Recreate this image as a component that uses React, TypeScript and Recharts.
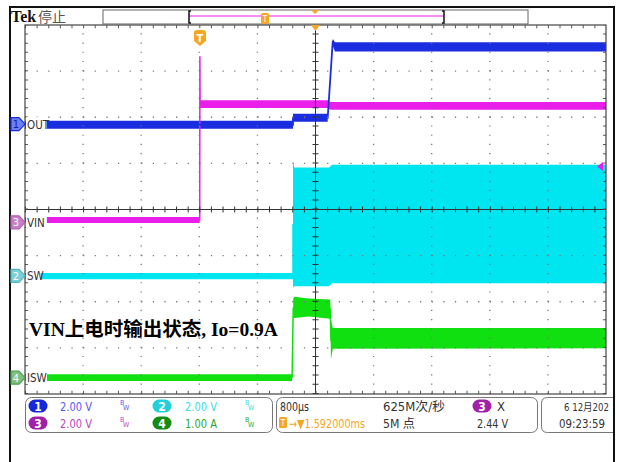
import React from "react";
import { ComposedChart, Line, Area, XAxis, YAxis, ReferenceLine } from "recharts";

// horizontal: 800 µs/div, trigger T at 0 ms, screen centre at 1.592 ms
const T_LEFT = -2.408;
const T_RIGHT = 5.592;
const T_DIV = 0.8;

// channel settings: V (or A) per division, ground marker position in divisions
const ch1Scale = 2, ch1Pos = 1.85;
const ch2Scale = 2, ch2Pos = -1.44;
const ch3Scale = 2, ch3Pos = -0.28;
const ch4Scale = 1, ch4Pos = -3.65;

// each trace: time (ms), lower and upper edge of the noisy trace
// CH1 OUT (V)
const outT = [-2.408, 1.282, 1.282, 1.76, 1.76, 1.83, 1.83, 1.86, 5.592];
const outLo = [-0.2, -0.2, 0.1, 0.1, 0.28, 3.62, 3.4, 3.15, 3.15];
const outHi = [0.15, 0.15, 0.45, 0.45, 0.28, 3.62, 3.7, 3.55, 3.55];

// CH3 VIN (V)
const vinT = [-2.408, -0.002, -0.002, 0.0, 0.003, 0.003, 1.76, 1.8, 5.592];
const vinLo = [-0.03, -0.03, 0.1, 7.2, 5.1, 4.96, 4.96, 4.88, 4.88];
const vinHi = [0.23, 0.23, 0.1, 7.2, 5.1, 5.3, 5.3, 5.22, 5.22];

// CH2 SW (V)
const swT = [-2.408, 1.282, 1.282, 1.3, 1.78, 1.82, 5.592];
const swLo = [-0.14, -0.14, -0.5, -0.45, -0.45, -0.32, -0.32];
const swHi = [0.13, 0.13, 5.0, 4.7, 4.7, 4.82, 4.82];

// CH4 ISW (A)
const iswT = [-2.408, 1.27, 1.27, 1.285, 1.285, 1.3, 1.5, 1.795, 1.805, 1.83, 5.592];
const iswLo = [-0.07, -0.07, 0.0, 1.5, 1.3, 1.3, 1.33, 1.28, 0.4, 0.63, 0.64];
const iswHi = [0.08, 0.08, 0.0, 1.5, 1.72, 1.76, 1.72, 1.7, 1.25, 1.08, 1.08];

// graticule
const gridT = [1, 2, 3, 4, 6, 7, 8, 9].map((k) => T_LEFT + k * T_DIV);
const gridY = [-3, -2, -1, 1, 2, 3];
const T_CENTER = T_LEFT + 5 * T_DIV;

const toRows = (ts: number[], lo: number[], hi: number[], pos: number, scale: number) =>
  ts.map((t, i) => ({
    t,
    y: pos + (lo[i] + hi[i]) / 2 / scale,
    band: [pos + lo[i] / scale, pos + hi[i] / scale],
  }));

const outRows = toRows(outT, outLo, outHi, ch1Pos, ch1Scale);
const vinRows = toRows(vinT, vinLo, vinHi, ch3Pos, ch3Scale);
const swRows = toRows(swT, swLo, swHi, ch2Pos, ch2Scale);
const iswRows = toRows(iswT, iswLo, iswHi, ch4Pos, ch4Scale);

const BLUE = "#1a2ee0";
const CYAN = "#00e6f0";
const MAGENTA = "#ea1eea";
const GREEN = "#10e010";
const ORANGE = "#f5a623";

const PLOT_TOP = 25;
const DIV_PX = 46.1;
const yPx = (pos: number) => PLOT_TOP + (4 - pos) * DIV_PX;

const UI_FONT = "'DejaVu Sans Condensed', 'Noto Sans CJK SC', sans-serif";
const CJK = "'Noto Sans CJK SC', sans-serif";

function Marker({ y, n, stroke, fill, text, label }: any) {
  return (
    <g>
      <path d={`M11 ${y - 6.5} H19 L25 ${y} L19 ${y + 6.5} H11 Z`} fill={fill} stroke={stroke} strokeWidth={1.2} />
      <text x={16} y={y + 4} fontSize={11} textAnchor="middle" fill={text} fontFamily={UI_FONT}>{n}</text>
      <rect x={26} y={y - 7} width={label.length * 6.3 + 2} height={13} fill="#fff" />
      <text x={27} y={y + 4.5} fontSize={11.5} fill="#333" fontFamily={UI_FONT}>{label}</text>
    </g>
  );
}

function Badge({ x, y, n, color }: any) {
  return (
    <g>
      <rect x={x - 9.5} y={y - 6.5} width={19} height={13} rx={6.5} fill={color} />
      <text x={x} y={y + 4.5} fontSize={12} fontWeight="bold" textAnchor="middle" fill="#fff" fontFamily={UI_FONT}>{n}</text>
    </g>
  );
}

function Bw({ x, y, color }: any) {
  return (
    <text fill={color} fontSize={7} fontFamily={UI_FONT}>
      <tspan x={x} y={y - 2}>B</tspan>
      <tspan x={x + 3} y={y + 3}>W</tspan>
    </text>
  );
}

// status-bar text squeezed to the narrow scope font width
function St({ x, y, w, color = "#333", fs = 12.5, children }: any) {
  return (
    <text x={x} y={y} fontSize={fs} fill={color} fontFamily={UI_FONT} textLength={w} lengthAdjust="spacingAndGlyphs">
      {children}
    </text>
  );
}

export default function App() {
  const dotH = "1.2 10.42";
  const dotV = "1.2 8.02";
  return (
    <div style={{ position: "absolute", left: 0, top: 0, width: 619, height: 462, background: "#fff", overflow: "hidden" }}>
      <ComposedChart width={619} height={462} margin={{ top: 25, right: 13, bottom: 68, left: 25 }}>
        <XAxis type="number" dataKey="t" domain={[T_LEFT, T_RIGHT]} allowDataOverflow hide />
        <YAxis type="number" domain={[-4, 4]} allowDataOverflow hide />

        <Area data={swRows} dataKey="band" type="linear" stroke="none" fill={CYAN} fillOpacity={1} isAnimationActive={false} />
        <Line data={swRows} dataKey="y" type="linear" stroke={CYAN} strokeWidth={1.5} dot={false} isAnimationActive={false} />
        <Area data={iswRows} dataKey="band" type="linear" stroke="none" fill={GREEN} fillOpacity={1} isAnimationActive={false} />
        <Line data={iswRows} dataKey="y" type="linear" stroke={GREEN} strokeWidth={1.5} dot={false} isAnimationActive={false} />
        <Area data={vinRows} dataKey="band" type="linear" stroke="none" fill={MAGENTA} fillOpacity={1} isAnimationActive={false} />
        <Line data={vinRows} dataKey="y" type="linear" stroke={MAGENTA} strokeWidth={1.5} dot={false} isAnimationActive={false} />
        <Area data={outRows} dataKey="band" type="linear" stroke="none" fill={BLUE} fillOpacity={1} isAnimationActive={false} />
        <Line data={outRows} dataKey="y" type="linear" stroke={BLUE} strokeWidth={1.8} dot={false} isAnimationActive={false} />

        {gridT.map((t) => (
          <ReferenceLine key={"gx" + t} x={t} stroke="#777" strokeWidth={1.3} strokeDasharray={dotV} />
        ))}
        {gridY.map((y) => (
          <ReferenceLine key={"gy" + y} y={y} stroke="#777" strokeWidth={1.3} strokeDasharray={dotH} />
        ))}
        <ReferenceLine y={0} stroke="#333" strokeWidth={1} />
        <ReferenceLine y={0} stroke="#333" strokeWidth={6} strokeDasharray="1 10.62" />
        <ReferenceLine x={T_CENTER} stroke="#333" strokeWidth={1} />
        <ReferenceLine x={T_CENTER} stroke="#333" strokeWidth={6} strokeDasharray="1 8.22" />
        <ReferenceLine y={3.96} stroke="#555" strokeWidth={3} strokeDasharray="1 10.62" />
        <ReferenceLine y={-3.96} stroke="#555" strokeWidth={3} strokeDasharray="1 10.62" />
        <ReferenceLine x={T_LEFT + 0.02} stroke="#555" strokeWidth={3} strokeDasharray="1 8.22" />
        <ReferenceLine x={T_RIGHT - 0.02} stroke="#555" strokeWidth={3} strokeDasharray="1 8.22" />
      </ComposedChart>

      <svg width={619} height={462} style={{ position: "absolute", left: 0, top: 0, pointerEvents: "none" }}>
        {/* graticule border */}
        <rect x={25} y={25} width={581} height={369} fill="none" stroke="#444" strokeWidth={1.2} />

        {/* screen frame */}
        <path d="M10 462 V7 H614 V462" fill="none" stroke="#111" strokeWidth={2} />

        {/* top bar */}
        <text x={11} y={22} fontSize={16} fontWeight="bold" fill="#111" fontFamily="'Liberation Serif', serif">Tek</text>
        <text x={38} y={22} fontSize={14} fill="#555" fontFamily={CJK}>停止</text>
        <rect x={103} y={10} width={425} height={14} fill="#fff" stroke="#666" strokeWidth={1} />
        <line x1={189} y1={16} x2={444} y2={16} stroke={MAGENTA} strokeWidth={1.2} />
        <path d="M191 11 H189 V23 H191" fill="none" stroke="#111" strokeWidth={1.5} />
        <path d="M442 11 H444 V23 H442" fill="none" stroke="#111" strokeWidth={1.5} />
        <rect x={261} y={13} width={8} height={11} rx={2} fill={ORANGE} />
        <text x={265} y={22} fontSize={8} textAnchor="middle" fill="#fff" fontFamily={UI_FONT}>T</text>
        <path d="M311 10 H319 L315 14 Z" fill={ORANGE} />

        {/* trigger markers */}
        <path d="M311 25 H320 L315.5 31 Z" fill={ORANGE} />
        <path d={`M194 33 Q194 30 197 30 H203 Q206 30 206 33 V41 L200 46 L194 41 Z`} fill={ORANGE} />
        <text x={200} y={42} fontSize={11} fontWeight="bold" textAnchor="middle" fill="#fff" fontFamily={UI_FONT}>T</text>
        <path d="M597 166.5 L603 162 V171 Z" fill={MAGENTA} />

        {/* channel markers */}
        <Marker y={yPx(ch1Pos)} n="1" stroke={BLUE} fill="#6f7ff0" text="#1020a0" label="OUT" />
        <Marker y={yPx(ch3Pos)} n="3" stroke="#b060b0" fill="#c77fc8" text="#fff" label="VIN" />
        <Marker y={yPx(ch2Pos)} n="2" stroke="#50b8c0" fill="#7fd0d6" text="#fff" label="SW" />
        <Marker y={yPx(ch4Pos)} n="4" stroke="#50a050" fill="#80c080" text="#fff" label="ISW" />

        {/* annotation */}
        <text x={29} y={336} fontSize={19.5} fontWeight="bold" fill="#000" fontFamily="'Liberation Serif', 'Noto Sans CJK SC', serif">
          VIN上电时输出状态, Io=0.9A
        </text>

        {/* status bar */}
        <rect x={25.5} y={397.5} width={247} height={35} rx={6} fill="#fff" stroke="#777" />
        <rect x={276.5} y={397.5} width={261} height={35} rx={6} fill="#fff" stroke="#777" />
        <path d="M613 397.5 H547.5 Q541.5 397.5 541.5 403.5 V426.5 Q541.5 432.5 547.5 432.5 H613" fill="#fff" stroke="#777" />

        <Badge x={38} y={406} n="1" color="#1428d8" />
        <St x={60} y={411} w={32} color="#5a5af0">2.00 V</St>
        <Bw x={120} y={407} color="#5a5af0" />
        <Badge x={162} y={406} n="2" color="#22d0d8" />
        <St x={185} y={411} w={32} color="#40dce4">2.00 V</St>
        <Bw x={245} y={407} color="#40dce4" />
        <Badge x={38} y={423} n="3" color="#a020a8" />
        <St x={60} y={428} w={32} color="#b848c0">2.00 V</St>
        <Bw x={120} y={424} color="#b848c0" />
        <Badge x={162} y={423} n="4" color="#148c14" />
        <St x={185} y={428} w={32} color="#2aa82a">1.00 A</St>
        <Bw x={245} y={424} color="#2aa82a" />

        <St x={280} y={411} w={29}>800µs</St>
        <rect x={279} y={417} width={8} height={11} rx={1.5} fill={ORANGE} />
        <text x={283} y={426} fontSize={8} textAnchor="middle" fill="#fff" fontFamily={UI_FONT}>T</text>
        <St x={289} y={428} w={76} color={ORANGE}>→▼1.592000ms</St>
        <St x={383} y={411} w={62}>625M次/秒</St>
        <St x={383} y={428} w={32}>5M 点</St>
        <Badge x={482} y={406} n="3" color="#a020a8" />
        <St x={497} y={411} w={8}>X</St>
        <St x={477} y={428} w={31}>2.44 V</St>
        <St x={564} y={411} w={45} fs={10.5}>6 12月202</St>
        <St x={559} y={428} w={46}>09:23:59</St>
      </svg>
    </div>
  );
}
